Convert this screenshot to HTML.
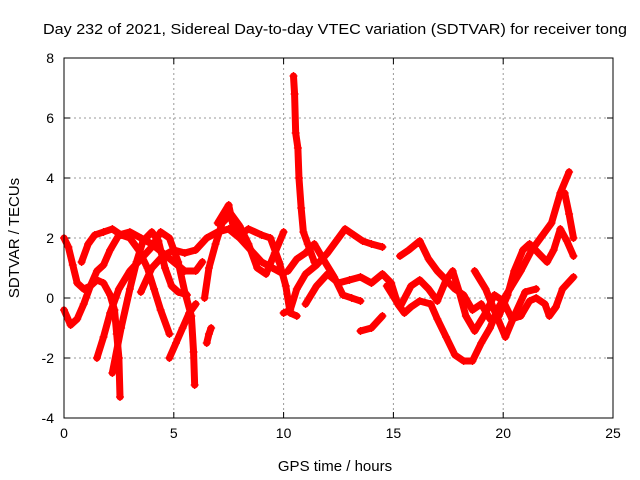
<!DOCTYPE html>
<html><head><meta charset="utf-8"><style>
body{margin:0;background:#fff}
svg{display:block;font-family:"Liberation Sans",sans-serif}
</style></head><body>
<svg id="chart" width="640" height="480">
<text x="43" y="34" font-size="15" textLength="584" lengthAdjust="spacingAndGlyphs">Day 232 of 2021, Sidereal Day-to-day VTEC variation (SDTVAR) for receiver tong</text>
<text x="335" y="471" font-size="15" text-anchor="middle">GPS time / hours</text>
<text transform="translate(19,238) rotate(-90)" font-size="15" text-anchor="middle">SDTVAR / TECUs</text>
<g id="grid"></g><g id="ticks"></g><g id="marks"></g>
<rect x="64" y="58" width="549" height="360" fill="none" stroke="#000" stroke-width="1"/>
</svg>
<script>
const xTicks=[0,5,10,15,20,25];
const yTicks=[-4,-2,0,2,4,6,8];
const trackA_t=[0,0.2,0.4,0.6,0.9,1.2,1.5,1.8,2.1,2.3,2.4,2.5,2.55];
const trackA_v=[2,1.7,1.1,0.5,0.3,0.4,0.6,0.5,0.1,-0.4,-1.2,-2,-3.3];
const trackB_t=[0,0.3,0.6,0.9,1.2,1.5,1.8,2.1,2.5,3,3.5,4,4.5,5,5.5,6,6.3];
const trackB_v=[-0.4,-0.9,-0.7,-0.2,0.4,0.9,1.1,1.6,2.1,2.2,2.0,1.8,1.5,1.2,0.9,0.9,1.2];
const trackC_t=[0.8,1.1,1.4,1.8,2.2,2.6,3,3.4,3.8,4.1,4.4,4.8];
const trackC_v=[1.2,1.8,2.1,2.2,2.3,2.1,2.0,1.6,1.0,0.3,-0.4,-1.2];
const trackD_t=[1.5,1.8,2.1,2.5,3,3.5,4,4.4,4.8,5.2,5.5,5.8,5.9,5.95];
const trackD_v=[-2,-1.3,-0.5,0.3,0.9,1.3,1.7,2.2,2.0,1.2,0.2,-0.6,-1.8,-2.9];
const trackE_t=[2.2,2.6,3,3.3,3.6,4.0,4.3,4.6,4.9,5.2,5.6];
const trackE_v=[-2.5,-1,0.3,1.2,1.9,2.2,1.9,1.0,0.4,0.2,0.1];
const trackF_t=[4.8,5.1,5.4,5.7,6.0];
const trackF_v=[-2,-1.5,-1,-0.5,-0.2];
const trackG_t=[3.5,4,4.5,5,5.5,6,6.5,7,7.5,8,8.5,9,9.5,10];
const trackG_v=[0.2,1.0,1.4,1.6,1.5,1.6,2.0,2.2,2.3,2.0,1.6,1.2,1.0,0.8];
const trackH_t=[6.4,6.6,6.9,7.2,7.6,8,8.4,8.8,9.2,9.6,10];
const trackH_v=[0,1,1.8,2.5,2.8,2.4,1.8,1.0,0.8,1.5,2.2];
const trackI_t=[6.5,6.6,6.7];
const trackI_v=[-1.5,-1.2,-1];
const trackJ_t=[7,7.5,7.7,8,8.4,9,9.4,9.8,10.1,10.3,10.6];
const trackJ_v=[2.5,3.1,2.4,2.1,2.3,2.1,2.0,1.2,0.4,-0.5,-0.6];
const trackK_t=[10.45,10.5,10.55,10.65,10.7,10.8,10.9,11.1,11.4];
const trackK_v=[7.4,6.8,5.5,5.0,4,3,2.2,1.8,1.2];
const trackL_t=[10,10.3,10.6,11,11.5,12,12.5,12.8,13.2,13.6,14,14.5];
const trackL_v=[-0.5,-0.4,0.3,0.8,1.1,1.5,2.0,2.3,2.1,1.9,1.8,1.7];
const trackM_t=[10.2,10.6,11,11.4,11.8,12.3,12.7,13.1,13.5];
const trackM_v=[0.9,1.3,1.5,1.8,1.3,0.7,0.1,0,-0.1];
const trackN_t=[11,11.5,12,12.5,13,13.5,14,14.5,14.9,15.2,15.5,15.8,16.2,16.7,17,17.4,17.8,18.2,18.6,19,19.4,19.8,20.3,20.8,21.3,21.8,22.2,22.6,23];
const trackN_v=[-0.2,0.4,0.8,0.5,0.6,0.7,0.5,0.8,0.5,-0.2,-0.5,-0.3,-0.1,-0.2,-0.7,-1.3,-1.9,-2.1,-2.1,-1.5,-1,-0.3,0.3,0.9,1.6,2.1,2.5,3.5,4.2];
const trackO_t=[13.5,14,14.5];
const trackO_v=[-1.1,-1,-0.6];
const trackP_t=[14.7,15.3,15.8,16.2,16.6,17,17.4,17.7,18,18.3,18.7,19.2,19.6,20,20.4,20.8,21.2,21.5,21.9,22.1,22.4,22.7,23.2];
const trackP_v=[0.4,-0.3,0.4,0.6,0.3,-0.1,0.6,0.9,0.2,-0.6,-1.1,-0.5,0.1,-0.1,-0.7,-0.6,-0.1,0,-0.2,-0.6,-0.3,0.3,0.7];
const trackQ_t=[15.3,15.7,16.2,16.6,17,17.4,17.8,18.2,18.6,19,19.4,19.8,20.2,20.5,20.9,21.2,21.6,22,22.3,22.6,22.9,23.2];
const trackQ_v=[1.4,1.6,1.9,1.3,0.9,0.6,0.3,0.1,-0.4,-0.2,-0.7,-0.6,0.1,0.9,1.6,1.8,1.5,1.2,1.6,2.3,1.9,1.4];
const trackR_t=[22.8,23,23.2];
const trackR_v=[3.5,2.8,2.0];
const trackS_t=[18.7,19.2,19.7,20.1,20.5,21,21.5];
const trackS_v=[0.9,0.3,-0.6,-1.3,-0.6,0.2,0.3];

const X0=64,X1=613,Y0=418,Y1=58,xmin=0,xmax=25,ymin=-4,ymax=8;
const xs=t=>X0+(t-xmin)/(xmax-xmin)*(X1-X0);
const ys=v=>Y0-(v-ymin)/(ymax-ymin)*(Y0-Y1);
const NS="http://www.w3.org/2000/svg";
const grid=document.getElementById('grid'),ticks=document.getElementById('ticks'),marks=document.getElementById('marks');
function mk(tag,attrs,parent){const e=document.createElementNS(NS,tag);for(const k in attrs)e.setAttribute(k,attrs[k]);parent.appendChild(e);return e;}
xTicks.forEach(t=>{
  const x=xs(t);
  if(t>xmin&&t<xmax){const g=mk('line',{x1:x,x2:x,y1:Y1,y2:Y0,stroke:'#999','stroke-dasharray':'2,3'},grid);
  
  }
  mk('line',{x1:x,x2:x,y1:Y0,y2:Y0-6,stroke:'#000'},ticks);
  mk('line',{x1:x,x2:x,y1:Y1,y2:Y1+6,stroke:'#000'},ticks);
  const l=mk('text',{x:x,y:Y0+20,'font-size':14,'text-anchor':'middle'},ticks);l.textContent=t;
  
  
});
yTicks.forEach(v=>{
  const y=ys(v);
  if(v>ymin&&v<ymax){const g=mk('line',{x1:X0,x2:X1,y1:y,y2:y,stroke:'#999','stroke-dasharray':'2,3'},grid);
  
  }
  mk('line',{x1:X0,x2:X0+6,y1:y,y2:y,stroke:'#000'},ticks);
  mk('line',{x1:X1,x2:X1-6,y1:y,y2:y,stroke:'#000'},ticks);
  const l=mk('text',{x:X0-10,y:y+5,'font-size':14,'text-anchor':'end'},ticks);l.textContent=v;
  
  
});
const tracks=[[trackA_t,trackA_v],[trackB_t,trackB_v],[trackC_t,trackC_v],[trackD_t,trackD_v],[trackE_t,trackE_v],[trackF_t,trackF_v],[trackG_t,trackG_v],[trackH_t,trackH_v],[trackI_t,trackI_v],[trackJ_t,trackJ_v],[trackK_t,trackK_v],[trackL_t,trackL_v],[trackM_t,trackM_v],[trackN_t,trackN_v],[trackO_t,trackO_v],[trackP_t,trackP_v],[trackQ_t,trackQ_v],[trackR_t,trackR_v],[trackS_t,trackS_v]];
tracks.forEach(([T,V])=>{
  const pts=T.map((t,i)=>xs(t)+','+ys(V[i])).join(' ');
  const pl=mk('polyline',{points:pts,fill:'none',stroke:'#f00','stroke-width':7,'stroke-linejoin':'round','stroke-linecap':'round'},marks);
  
  
  T.forEach((t,i)=>{
    const x=xs(t),y=ys(V[i]);
    const p=mk('path',{d:`M${x-4},${y}H${x+4}M${x},${y-4}V${y+4}`,stroke:'#f00','stroke-width':1.2},marks);
    
    
  });
});
</script>
</body></html>
